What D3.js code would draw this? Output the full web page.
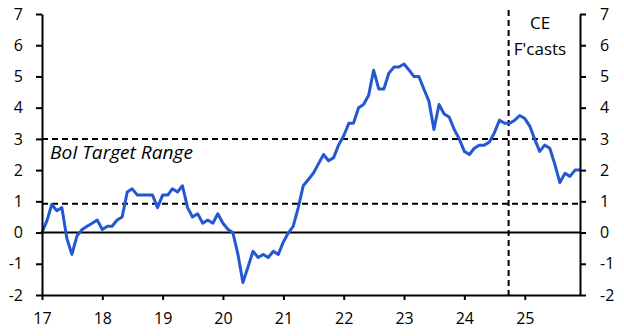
<!DOCTYPE html>
<html>
  <head>
  <meta charset="utf-8">
  <title>Israel CPI</title>
  <style>
    body, html {
      margin: 0;
      padding: 0;
      background: #fff;
    }
    text {
      font-family: "Open Sans", sans-serif;
      fill: #000;
    }
  </style>
  </head>
  <body>

  <svg id="svg" width="624" height="336"></svg>

  <script src="https://d3js.org/d3.v7.min.js"></script>
  <script>
    // monthly y/y CPI, Jan 2017 .. Dec 2025
    const firstMonth = '2017-01'
    const cpi = [
      0.0, 0.4, 0.9, 0.7, 0.8, -0.2, -0.7, -0.1, 0.1, 0.2, 0.3, 0.4,
      0.1, 0.2, 0.2, 0.4, 0.5, 1.3, 1.4, 1.2, 1.2, 1.2, 1.2, 0.8,
      1.2, 1.2, 1.4, 1.3, 1.5, 0.8, 0.5, 0.6, 0.3, 0.4, 0.3, 0.6,
      0.3, 0.1, 0.0, -0.7, -1.6, -1.1, -0.6, -0.8, -0.7, -0.8, -0.6, -0.7,
      -0.3, 0.0, 0.2, 0.8, 1.5, 1.7, 1.9, 2.2, 2.5, 2.3, 2.4, 2.8,
      3.1, 3.5, 3.5, 4.0, 4.1, 4.4, 5.2, 4.6, 4.6, 5.1, 5.3, 5.3,
      5.4, 5.2, 5.0, 5.0, 4.6, 4.2, 3.3, 4.1, 3.8, 3.7, 3.3, 3.0,
      2.6, 2.5, 2.7, 2.8, 2.8, 2.9, 3.2, 3.6, 3.5, 3.5, 3.6, 3.75,
      3.65, 3.4, 3.0, 2.6, 2.8, 2.7, 2.2, 1.6, 1.9, 1.8, 2.0, 2.0
    ]
    const yTicks = [-2, -1, 0, 1, 2, 3, 4, 5, 6, 7]
    const xTickYears = [2017, 2018, 2019, 2020, 2021, 2022, 2023, 2024, 2025]
    const targetBand = [0.92, 3]
    const forecastStart = '2024-09-25'
    const bandLabel = 'BoI Target Range'
    const forecastLabel = ['CE', "F'casts"]

    const margin = { top: 14, right: 44, bottom: 41, left: 42 }
    const width = 624 - (margin.left + margin.right)
    const height = 336 - (margin.top + margin.bottom)

    const parseMonth = d3.timeParse('%Y-%m')
    const start = parseMonth(firstMonth)
    const data = cpi.map((v, i) => ({ date: d3.timeMonth.offset(start, i), value: v }))

    const xscale = d3.scaleTime()
      .domain(d3.extent(data, d => d.date))
      .range([margin.left, margin.left + width])
    const yscale = d3.scaleLinear()
      .domain([-2, 7])
      .range([margin.top + height, margin.top])

    const svg = d3.select('#svg')

    // zero line
    svg.append('line')
      .attr('x1', xscale.range()[0]).attr('x2', xscale.range()[1])
      .attr('y1', yscale(0)).attr('y2', yscale(0))
      .attr('stroke', '#000').attr('stroke-width', 2)

    // target band edges
    svg.selectAll('line.band')
      .data(targetBand)
      .enter()
      .append('line')
      .attr('class', 'band')
      .attr('x1', xscale.range()[0]).attr('x2', xscale.range()[1])
      .attr('y1', d => yscale(d)).attr('y2', d => yscale(d))
      .attr('stroke', '#000').attr('stroke-width', 2)
      .attr('stroke-dasharray', '6,4')

    // forecast divider
    const fx = xscale(new Date(forecastStart))
    svg.append('line')
      .attr('x1', fx).attr('x2', fx)
      .attr('y1', 10).attr('y2', yscale(-2))
      .attr('stroke', '#000').attr('stroke-width', 2)
      .attr('stroke-dasharray', '6,4')

    const line = d3.line()
      .x(d => xscale(d.date))
      .y(d => yscale(d.value))

    svg.append('path')
      .datum(data)
      .attr('fill', 'none')
      .attr('stroke', '#2358d2')
      .attr('stroke-width', 3)
      .attr('stroke-linejoin', 'round')
      .attr('d', line)

    const numFmt = d => String(d)
    const leftAxis = d3.axisLeft(yscale).tickValues(yTicks).tickSize(6).tickPadding(13).tickFormat(numFmt)
    const rightAxis = d3.axisRight(yscale).tickValues(yTicks).tickSize(6).tickPadding(14).tickFormat(numFmt)
    const bottomAxis = d3.axisBottom(xscale)
      .tickValues(xTickYears.map(y => new Date(y, 0, 1)))
      .tickSize(5).tickPadding(13)
      .tickFormat(d3.timeFormat('%y'))

    function styleAxis(g) {
      g.selectAll('.domain').attr('stroke', '#000').attr('stroke-width', 2)
      g.selectAll('.tick line').attr('stroke', '#000').attr('stroke-width', 2)
      g.selectAll('.tick text')
        .attr('fill', '#000')
        .style('font-family', '"Open Sans", sans-serif')
        .style('font-size', '16px')
    }

    svg.append('g')
      .attr('transform', `translate(${margin.left}, 0)`)
      .call(leftAxis.tickSizeOuter(0))
      .call(styleAxis)

    svg.append('g')
      .attr('transform', `translate(${margin.left + width}, 0)`)
      .call(rightAxis.tickSizeOuter(0))
      .call(styleAxis)

    svg.append('g')
      .attr('transform', `translate(0, ${margin.top + height})`)
      .call(bottomAxis.tickSizeOuter(0))
      .call(styleAxis)

    svg.append('text')
      .attr('x', 50).attr('y', 159)
      .attr('textLength', 143)
      .attr('lengthAdjust', 'spacingAndGlyphs')
      .style('font-size', '17.5px')
      .style('font-style', 'italic')
      .text(bandLabel)

    svg.selectAll('text.fc')
      .data(forecastLabel)
      .enter()
      .append('text')
      .attr('class', 'fc')
      .attr('x', 540)
      .attr('y', (d, i) => 29 + i * 26)
      .attr('text-anchor', 'middle')
      .style('font-size', '17px')
      .text(d => d)
  </script>
  </body>
</html>
